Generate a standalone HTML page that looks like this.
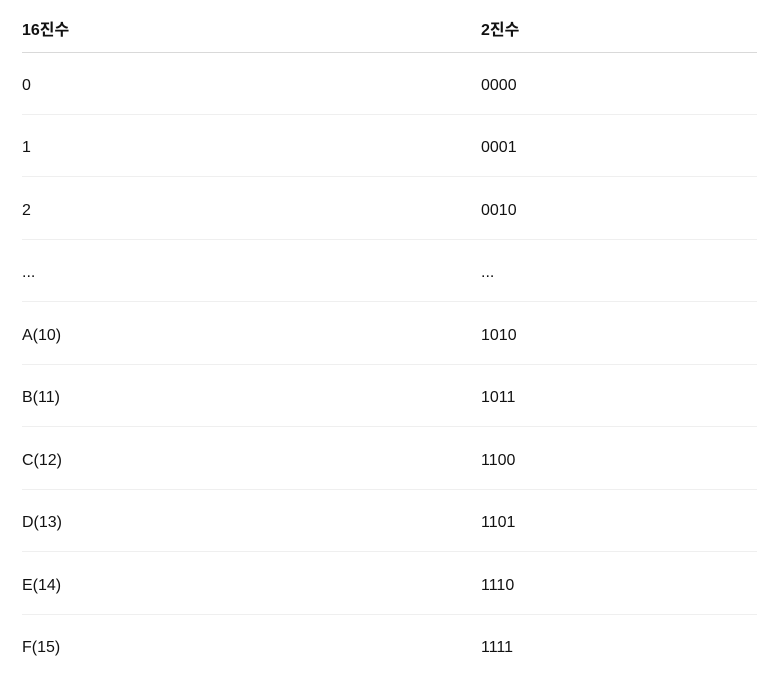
<!DOCTYPE html>
<html><head><meta charset="utf-8"><style>
body{margin:0;width:757px;height:676px;background:#fff;font-family:"Liberation Sans","Noto Sans CJK KR",sans-serif;color:#111;position:relative;overflow:hidden}
.c{position:absolute;font-size:16px;line-height:20px}
.h{font-weight:bold;top:21px}
.l{position:absolute;left:22px;width:735px;height:1px}
</style></head><body>
<div>
<div class="c h" style="left:22px">16진수</div>
<div class="c h" style="left:481px">2진수</div>
<div class="l" style="top:52px;background:#d9d9d9"></div>
<div id="rows"></div>
</div>
<script>
const hexLabels=["0","1","2","...","A(10)","B(11)","C(12)","D(13)","E(14)","F(15)"];
const binLabels=["0000","0001","0010","...","1010","1011","1100","1101","1110","1111"];
const root=document.getElementById('rows');
hexLabels.forEach((h,i)=>{
  const y=76+i*62.45;
  const a=document.createElement('div');a.className='c';a.style.left='22px';a.style.top=y+'px';a.textContent=h;
  
  
  const b=document.createElement('div');b.className='c';b.style.left='481px';b.style.top=y+'px';b.textContent=binLabels[i];
  
  
  root.appendChild(a);root.appendChild(b);
  if(i<hexLabels.length-1){
    const l=document.createElement('div');l.className='l';l.style.top=Math.round(114+i*62.45)+'px';l.style.background='#efefef';
    
    
    root.appendChild(l);
  }
});
</script>
</body></html>
